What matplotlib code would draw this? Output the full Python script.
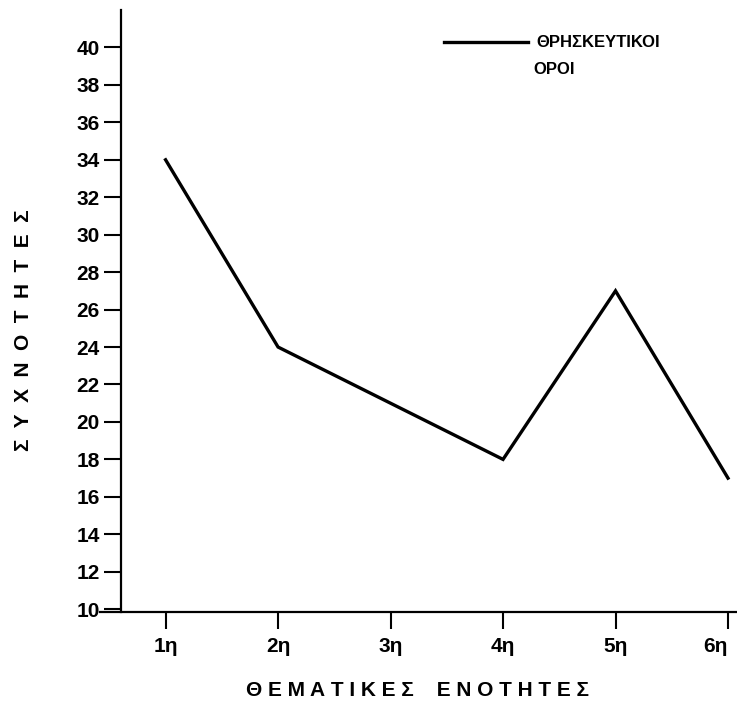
import matplotlib.pyplot as plt

units = ['1η', '2η', '3η', '4η', '5η', '6η']
freq = [34, 24, 21, 18, 27, 17]
yticks = list(range(10, 41, 2))

plt.rcParams['font.family'] = ['Liberation Sans', 'DejaVu Sans']

fig = plt.figure(figsize=(7.37, 7.19), dpi=100)
ax = fig.add_axes([100 / 737, 1 - 612 / 719, 637 / 737, 602 / 719])

x = list(range(1, len(units) + 1))
ax.plot(x, freq, color='black', lw=2.4, solid_joinstyle='miter',
        label='ΘΡΗΣΚΕΥΤΙΚΟΙ')

ax.set_xlim(0.417, 6.08)
ax.set_ylim(9.85, 42)
ax.spines['left'].set_position(('data', 0.6))
ax.spines['top'].set_visible(False)
ax.spines['right'].set_visible(False)
for s in ('left', 'bottom'):
    ax.spines[s].set_linewidth(1.6)

ax.set_xticks(x)
ax.set_xticklabels(units)
ax.set_yticks(yticks)
ax.tick_params(axis='both', direction='out', length=12, width=1.5,
               labelsize=15)
ax.tick_params(axis='x', pad=6)
ax.tick_params(axis='y', pad=3)
for lab in ax.get_xticklabels() + ax.get_yticklabels():
    lab.set_fontweight('bold')
ax.get_xticklabels()[-1].set_horizontalalignment('right')
ax.get_xticklabels()[-1].set_x(6.08)

fig.text(24 / 737, 1 - 330 / 719, 'Σ  Υ  Χ  Ν  Ο  Τ  Η  Τ  Ε  Σ', rotation=90,
         ha='center', va='center', fontsize=15, fontweight='bold')
fig.text(418 / 737, 1 - 690 / 719, 'Θ Ε Μ Α Τ Ι Κ Ε Σ    Ε Ν Ο Τ Η Τ Ε Σ',
         ha='center', va='center', fontsize=15, fontweight='bold')

leg = ax.legend(loc='upper left', bbox_to_anchor=(436 / 737, 1 - 27 / 719),
                bbox_transform=fig.transFigure, frameon=False,
                handlelength=5.0, handletextpad=0.5, borderpad=0,
                prop={'weight': 'bold', 'size': 12})
fig.text(533 / 737, 1 - 70 / 719, 'ΟΡΟΙ', ha='left', va='center',
         fontsize=12, fontweight='bold')

fig.savefig('out.png', dpi=100)
